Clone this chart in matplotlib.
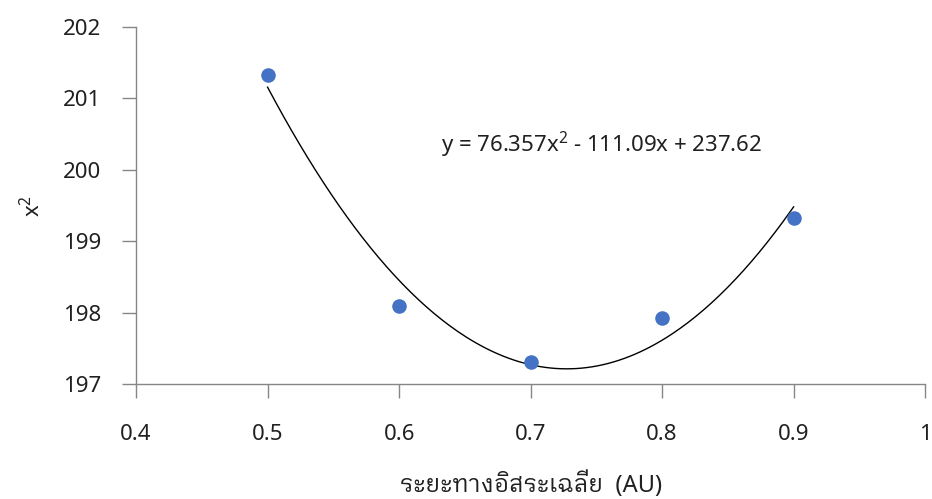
import numpy as np
import matplotlib
matplotlib.use("Agg")
import matplotlib.pyplot as plt

distance = [0.5, 0.6, 0.7, 0.8, 0.9]
chi2 = [201.33, 198.09, 197.31, 197.92, 199.32]
xticks = [0.4, 0.5, 0.6, 0.7, 0.8, 0.9, 1.0]
xticklabels = ["0.4", "0.5", "0.6", "0.7", "0.8", "0.9", "1"]
yticks = [197, 198, 199, 200, 201, 202]
xlabel = "ระยะทางอิสระเฉลี่ย  (AU)"
equation = "y = 76.357x$^2$ - 111.09x + 237.62"

base = "Noto Sans"
plt.rcParams['font.family'] = [base, 'IBM Plex Sans Thai Looped', 'IBM Plex Sans Thai', 'DejaVu Sans']
plt.rcParams['mathtext.fontset'] = 'custom'
plt.rcParams['mathtext.rm'] = base

fig = plt.figure(figsize=(9.32, 4.99), dpi=100)
ax = fig.add_axes([0.146, 0.2305, 0.8466, 0.7155])

ax.scatter(distance, chi2, s=110, color="#4472C4", zorder=3, linewidths=0)
coef = np.polyfit(distance, chi2, 2)
xs = np.linspace(min(distance), max(distance), 200)
ax.plot(xs, np.polyval(coef, xs), color="black", lw=1.0, zorder=2)

ax.set_xlim(0.4, 1.0)
ax.set_ylim(197, 202)
ax.set_xticks(xticks)
ax.set_xticklabels(xticklabels)
ax.set_yticks(yticks)
for s in ["top", "right"]:
    ax.spines[s].set_visible(False)
for s in ["left", "bottom"]:
    ax.spines[s].set_color("#868686")
    ax.spines[s].set_linewidth(1.0)
ax.tick_params(axis="both", colors="#868686", length=10, width=1.0, labelsize=16, labelcolor="#202020")
ax.tick_params(axis="x", pad=19)
ax.tick_params(axis="y", pad=15)

ax.text(0.632, 200.35, equation, fontsize=16, color="#202020", va="center", ha="left")
ax.set_xlabel(xlabel, fontsize=17, color="#202020", labelpad=19)
ax.set_ylabel("x$^2$", fontsize=16, color="#202020", labelpad=13)

fig.savefig("out.png", dpi=100)
